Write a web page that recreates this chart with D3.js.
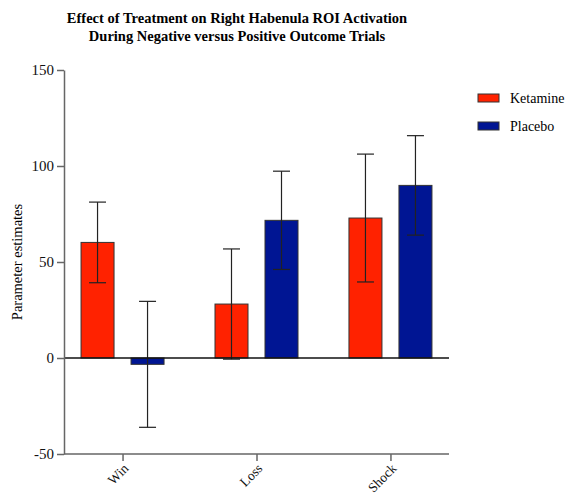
<!DOCTYPE html>
<html>
<head>
<meta charset="utf-8">
<script src="https://cdn.jsdelivr.net/npm/d3@7"></script>
<style>
  body { margin: 0; background: #fff; }
  text { font-family: "Liberation Serif", "DejaVu Serif", serif; }
</style>
</head>
<body>
<svg id="chart" width="565" height="497"></svg>
<script>
// data
var categories = ["Win", "Loss", "Shock"];
var groups = ["Ketamine", "Placebo"];
var ketamine = [60.2, 28.1, 72.9];
var ketamineErr = [21.0, 28.7, 33.3];
var placebo = [-3.3, 71.7, 89.9];
var placeboErr = [32.8, 25.6, 25.9];
var yTicks = [-50, 0, 50, 100, 150];
var colors = ["#ff2200", "#001593"];

var rows = [];
categories.forEach(function(c, i) {
  rows.push({cat: c, grp: groups[0], v: ketamine[i], e: ketamineErr[i]});
  rows.push({cat: c, grp: groups[1], v: placebo[i], e: placeboErr[i]});
});

var svg = d3.select("#chart");
var plotL = 64, plotR = 449, plotT = 70, plotB = 454;

var y = d3.scaleLinear().domain([-50, 150]).range([plotB, plotT]);
var x = d3.scalePoint().domain(categories).range([plotL, plotR]).padding(0.437);
// bars within a category: centres at -25 / +25, 33px wide
var xg = d3.scaleBand().domain(groups).range([-41.5, 41.5]).paddingInner(0.34).paddingOuter(0);
var color = d3.scaleOrdinal().domain(groups).range(colors);

// title
svg.append("text")
  .attr("x", 237).attr("y", 23)
  .attr("text-anchor", "middle")
  .attr("font-weight", "bold").attr("font-size", 14.5)
  .text("Effect of Treatment on Right Habenula ROI Activation");
svg.append("text")
  .attr("x", 237).attr("y", 41)
  .attr("text-anchor", "middle")
  .attr("font-weight", "bold").attr("font-size", 14.5)
  .text("During Negative versus Positive Outcome Trials");

// bars
svg.append("g").selectAll("rect").data(rows).enter().append("rect")
  .attr("x", function(d) { return x(d.cat) + xg(d.grp); })
  .attr("width", xg.bandwidth())
  .attr("y", function(d) { return y(Math.max(0, d.v)); })
  .attr("height", function(d) { return Math.abs(y(d.v) - y(0)); })
  .attr("fill", function(d) { return color(d.grp); })
  .attr("stroke", "#333").attr("stroke-width", 1);

// error bars
var eb = svg.append("g").attr("stroke", "#222").attr("stroke-width", 1.2);
rows.forEach(function(d) {
  var cx = x(d.cat) + xg(d.grp) + xg.bandwidth() / 2;
  eb.append("line").attr("x1", cx).attr("x2", cx)
    .attr("y1", y(d.v + d.e)).attr("y2", y(d.v - d.e));
  [d.v + d.e, d.v - d.e].forEach(function(t) {
    eb.append("line").attr("x1", cx - 8.5).attr("x2", cx + 8.5)
      .attr("y1", y(t)).attr("y2", y(t));
  });
});

// zero line
svg.append("line")
  .attr("x1", plotL).attr("x2", plotR)
  .attr("y1", y(0)).attr("y2", y(0))
  .attr("stroke", "#111").attr("stroke-width", 1.3);

// y axis
var yAxis = svg.append("g")
  .attr("transform", "translate(" + plotL + ",0)")
  .call(d3.axisLeft(y).tickValues(yTicks).tickFormat(function(d) { return String(d); })
    .tickSize(7).tickSizeOuter(0).tickPadding(3));
yAxis.selectAll("text").attr("font-size", 15).attr("fill", "#111")
  .style("font-family", "Liberation Serif");
yAxis.selectAll("line, path").attr("stroke", "#666").attr("stroke-width", 1.5);

// x axis
var xAxis = svg.append("g")
  .attr("transform", "translate(0," + plotB + ")")
  .call(d3.axisBottom(x).tickSize(7).tickSizeOuter(0));
xAxis.select("path").attr("d", "M" + plotL + ",0H" + plotR);
xAxis.selectAll("line, path").attr("stroke", "#666").attr("stroke-width", 1.5);
xAxis.selectAll("text")
  .attr("font-size", 13.5).attr("fill", "#111")
  .style("font-family", "Liberation Serif")
  .attr("text-anchor", "end")
  .attr("x", 0).attr("y", 0).attr("dy", "0.35em")
  .attr("transform", "translate(3,12) rotate(-45)");

// y label
svg.append("text")
  .attr("transform", "translate(22," + y(50) + ") rotate(-90)")
  .attr("text-anchor", "middle")
  .attr("font-size", 14.5)
  .text("Parameter estimates");

// legend
var lg = svg.append("g").selectAll("g").data(groups).enter().append("g")
  .attr("transform", function(d, i) { return "translate(478," + (94 + i * 28) + ")"; });
lg.append("rect").attr("width", 21).attr("height", 8)
  .attr("fill", function(d) { return color(d); })
  .attr("stroke", "#333").attr("stroke-width", 1);
lg.append("text").attr("x", 32).attr("y", 9)
  .attr("font-size", 14)
  .text(function(d) { return d; });
</script>
</body>
</html>
